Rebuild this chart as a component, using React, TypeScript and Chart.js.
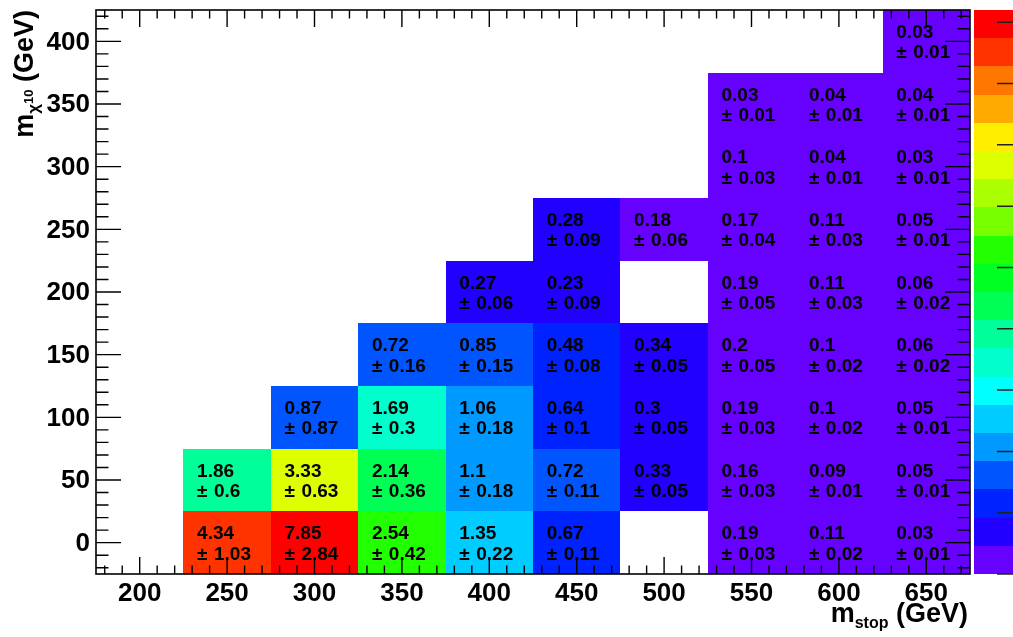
import React, { useEffect, useRef } from "react";
import { Chart, registerables } from "chart.js";

Chart.register(...registerables);

// ---- data ----
const cellStop = [
  250, 250,
  300, 300, 300,
  350, 350, 350, 350,
  400, 400, 400, 400, 400,
  450, 450, 450, 450, 450, 450,
  500, 500, 500, 500,
  550, 550, 550, 550, 550, 550, 550, 550,
  600, 600, 600, 600, 600, 600, 600, 600,
  650, 650, 650, 650, 650, 650, 650, 650, 650,
];
const cellChi = [
  0, 50,
  0, 50, 100,
  0, 50, 100, 150,
  0, 50, 100, 150, 200,
  0, 50, 100, 150, 200, 250,
  50, 100, 150, 250,
  0, 50, 100, 150, 200, 250, 300, 350,
  0, 50, 100, 150, 200, 250, 300, 350,
  0, 50, 100, 150, 200, 250, 300, 350, 400,
];
const cellValue = [
  4.34, 1.86,
  7.85, 3.33, 0.87,
  2.54, 2.14, 1.69, 0.72,
  1.35, 1.1, 1.06, 0.85, 0.27,
  0.67, 0.72, 0.64, 0.48, 0.23, 0.28,
  0.33, 0.3, 0.34, 0.18,
  0.19, 0.16, 0.19, 0.2, 0.19, 0.17, 0.1, 0.03,
  0.11, 0.09, 0.1, 0.1, 0.11, 0.11, 0.04, 0.04,
  0.03, 0.05, 0.05, 0.06, 0.06, 0.05, 0.03, 0.04, 0.03,
];
const cellError = [
  1.03, 0.6,
  2.84, 0.63, 0.87,
  0.42, 0.36, 0.3, 0.16,
  0.22, 0.18, 0.18, 0.15, 0.06,
  0.11, 0.11, 0.1, 0.08, 0.09, 0.09,
  0.05, 0.05, 0.05, 0.06,
  0.03, 0.03, 0.03, 0.05, 0.05, 0.04, 0.03, 0.01,
  0.02, 0.01, 0.02, 0.02, 0.03, 0.03, 0.01, 0.01,
  0.01, 0.01, 0.01, 0.02, 0.02, 0.01, 0.01, 0.01, 0.01,
];

const xTickValues = [200, 250, 300, 350, 400, 450, 500, 550, 600, 650];
const yTickValues = [0, 50, 100, 150, 200, 250, 300, 350, 400];
const zTickValues = [0, 0.5, 1, 1.5, 2, 2.5, 3, 3.5, 4, 4.5];

const X_MIN = 175, X_MAX = 675, Y_MIN = -25, Y_MAX = 425, Z_MIN = 0, Z_MAX = 4.6;
const BIN_W = 50, BIN_H = 50;

// 20-level rainbow palette (bottom -> top)
const palette = [
  "#6600ff", "#2200ff", "#0022ff", "#0055ff", "#0099ff",
  "#00ccff", "#00ffff", "#00ffcc", "#00ff99", "#00ff55",
  "#00ff22", "#22ff00", "#77ff00", "#aaff00", "#ddff00",
  "#ffee00", "#ffaa00", "#ff7700", "#ff3300", "#ff0000",
];

const FONT = '"Liberation Sans", Arial, Helvetica, sans-serif';

function colorFor(v: number): string {
  const n = palette.length;
  let idx = Math.floor(((v - Z_MIN) / (Z_MAX - Z_MIN)) * n);
  if (idx < 0) idx = 0;
  if (idx > n - 1) idx = n - 1;
  return palette[idx];
}

const heatPlugin = {
  id: "heatmap2d",
  beforeDraw(chart: any) {
    const ctx = chart.ctx;
    ctx.save();
    ctx.fillStyle = "#ffffff";
    ctx.fillRect(0, 0, chart.width, chart.height);
    ctx.restore();
  },
  afterDatasetsDraw(chart: any) {
    const ctx: CanvasRenderingContext2D = chart.ctx;
    const xs = chart.scales.x;
    const ys = chart.scales.y;
    const zs = chart.scales.z;
    const area = chart.chartArea;
    ctx.save();

    // cells
    for (let i = 0; i < cellValue.length; i++) {
      const x0 = Math.round(xs.getPixelForValue(cellStop[i] - BIN_W / 2));
      const x1 = Math.round(xs.getPixelForValue(cellStop[i] + BIN_W / 2));
      const y0 = Math.round(ys.getPixelForValue(cellChi[i] + BIN_H / 2));
      const y1 = Math.round(ys.getPixelForValue(cellChi[i] - BIN_H / 2));
      ctx.fillStyle = colorFor(cellValue[i]);
      ctx.fillRect(x0, y0, x1 - x0, y1 - y0);
    }

    // cell texts
    ctx.fillStyle = "#000000";
    ctx.font = `bold 19px ${FONT}`;
    ctx.textAlign = "left";
    ctx.textBaseline = "alphabetic";
    for (let i = 0; i < cellValue.length; i++) {
      const cx = xs.getPixelForValue(cellStop[i]);
      const cy = ys.getPixelForValue(cellChi[i]);
      ctx.fillText(String(cellValue[i]), cx - 30, cy - 3.5);
      const pm = "\u00b1";
      ctx.fillText(pm, cx - 30, cy + 17);
      const wPm = ctx.measureText(pm).width;
      ctx.fillText(String(cellError[i]), cx - 30 + wPm + 6.5, cy + 17);
    }

    // frame
    ctx.strokeStyle = "#000000";
    ctx.lineWidth = 1.6;
    ctx.strokeRect(area.left, area.top, area.right - area.left, area.bottom - area.top);

    // x ticks (bottom + top), minor every 10
    ctx.lineWidth = 1.4;
    ctx.beginPath();
    for (let v = 180; v <= 670; v += 10) {
      const px = xs.getPixelForValue(v);
      const len = v % 50 === 0 ? 17 : 8.5;
      ctx.moveTo(px, area.bottom);
      ctx.lineTo(px, area.bottom - len);
      ctx.moveTo(px, area.top);
      ctx.lineTo(px, area.top + len);
    }
    // y ticks (left + right), minor every 10
    for (let v = -20; v <= 420; v += 10) {
      const py = ys.getPixelForValue(v);
      const len = v % 50 === 0 ? 25 : 12.5;
      ctx.moveTo(area.left, py);
      ctx.lineTo(area.left + len, py);
      ctx.moveTo(area.right, py);
      ctx.lineTo(area.right - len, py);
    }
    ctx.stroke();

    // tick labels
    ctx.font = `bold 26px ${FONT}`;
    ctx.textAlign = "center";
    ctx.textBaseline = "alphabetic";
    for (const v of xTickValues) {
      ctx.fillText(String(v), xs.getPixelForValue(v), area.bottom + 27);
    }
    ctx.textAlign = "right";
    ctx.textBaseline = "middle";
    for (const v of yTickValues) {
      ctx.fillText(String(v), area.left - 6, ys.getPixelForValue(v) + 1);
    }

    // x title: m_stop (GeV), right aligned
    {
      const big = `bold 27px ${FONT}`;
      const small = `bold 16px ${FONT}`;
      ctx.textAlign = "left";
      ctx.textBaseline = "alphabetic";
      ctx.font = big;
      const wM = ctx.measureText("m").width;
      const wG = ctx.measureText(" (GeV)").width;
      ctx.font = small;
      const wS = ctx.measureText("stop").width;
      const right = area.right - 2;
      const base = 622;
      let x = right - (wM + wS + wG);
      ctx.font = big;
      ctx.fillText("m", x, base);
      x += wM;
      ctx.font = small;
      ctx.fillText("stop", x, base + 6);
      x += wS;
      ctx.font = big;
      ctx.fillText(" (GeV)", x, base);
    }

    // y title: m_chi10 (GeV), rotated, aligned to top
    {
      const big = `bold 27px ${FONT}`;
      const mid = `bold 17px ${FONT}`;
      const tiny = `bold 13px ${FONT}`;
      ctx.save();
      ctx.translate(33, area.top);
      ctx.rotate(-Math.PI / 2);
      ctx.textAlign = "left";
      ctx.textBaseline = "alphabetic";
      ctx.font = big;
      const wM = ctx.measureText("m").width;
      const wG = ctx.measureText(" (GeV)").width;
      ctx.font = mid;
      const wC = ctx.measureText("\u03c7").width;
      ctx.font = tiny;
      const wN = ctx.measureText("10").width;
      let x = -(wM + wC + wN + wG);
      ctx.font = big;
      ctx.fillText("m", x, 0);
      x += wM;
      ctx.font = mid;
      ctx.fillText("\u03c7", x, 6);
      x += wC;
      ctx.font = tiny;
      ctx.fillText("10", x, 0);
      x += wN;
      ctx.font = big;
      ctx.fillText(" (GeV)", x, 0);
      ctx.restore();
    }

    // colour bar
    const barLeft = area.right + 4;
    const barRight = chart.width + 10;
    const n = palette.length;
    for (let i = 0; i < n; i++) {
      const zLo = Z_MIN + ((Z_MAX - Z_MIN) * i) / n;
      const zHi = Z_MIN + ((Z_MAX - Z_MIN) * (i + 1)) / n;
      const yTop = Math.round(zs.getPixelForValue(zHi));
      const yBot = Math.round(zs.getPixelForValue(zLo));
      ctx.fillStyle = palette[i];
      ctx.fillRect(barLeft, yTop, barRight - barLeft, yBot - yTop);
    }
    ctx.strokeStyle = "#222222";
    ctx.lineWidth = 1.5;
    ctx.beginPath();
    for (const v of zTickValues) {
      const py = zs.getPixelForValue(v);
      ctx.moveTo(chart.width - 16, py);
      ctx.lineTo(chart.width, py);
    }
    ctx.stroke();

    ctx.restore();
  },
};

export default function App() {
  const canvasRef = useRef<HTMLCanvasElement | null>(null);

  useEffect(() => {
    document.body.style.margin = "0";
    const canvas = canvasRef.current;
    if (!canvas) return;
    const points = cellValue.map((v, i) => ({ x: cellStop[i], y: cellChi[i], v }));
    const chart = new Chart(canvas, {
      type: "scatter",
      data: {
        datasets: [
          {
            label: "cells",
            data: points,
            pointRadius: 0,
            pointHoverRadius: 0,
            showLine: false,
          },
        ],
      },
      options: {
        animation: false,
        responsive: false,
        devicePixelRatio: 1,
        events: [],
        layout: { padding: { left: 96, right: 43, top: 10, bottom: 63 } },
        plugins: {
          legend: { display: false },
          tooltip: { enabled: false },
          title: { display: false },
        },
        scales: {
          x: { type: "linear", min: X_MIN, max: X_MAX, display: false },
          y: { type: "linear", min: Y_MIN, max: Y_MAX, display: false },
          z: { type: "linear", axis: "y", position: "right", min: Z_MIN, max: Z_MAX, display: false },
        },
      } as any,
      plugins: [heatPlugin],
    });
    return () => chart.destroy();
  }, []);

  return (
    <div style={{ position: "absolute", left: 0, top: 0, width: 1013, height: 637 }}>
      <canvas ref={canvasRef} width={1013} height={637} style={{ display: "block" }} />
    </div>
  );
}
